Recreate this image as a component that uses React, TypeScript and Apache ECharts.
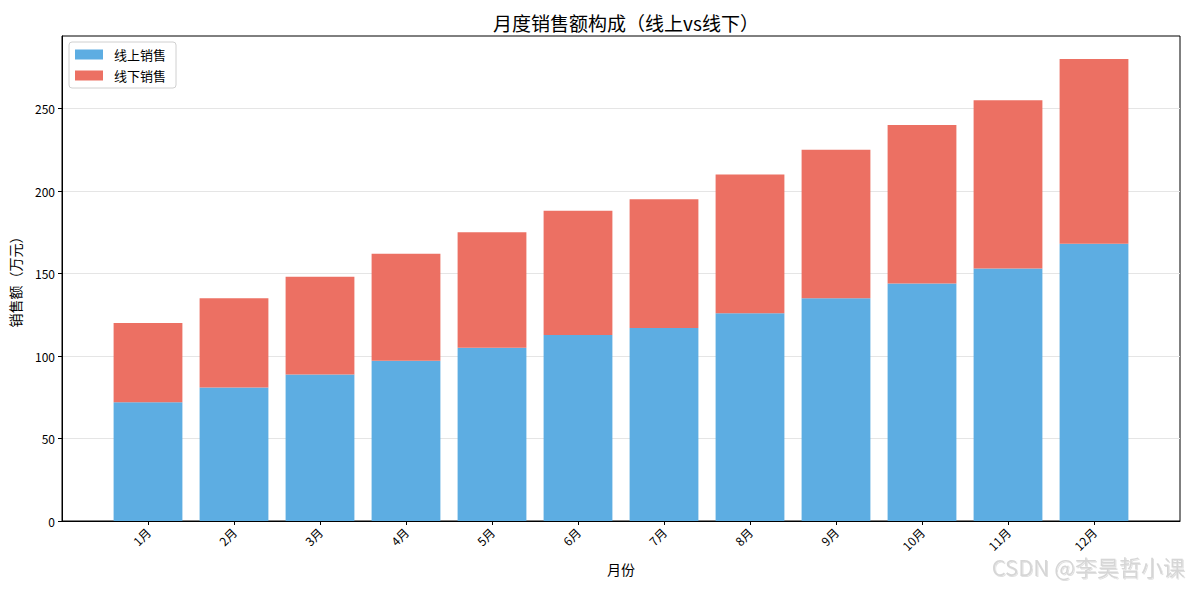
import React, { useEffect, useRef } from "react";
import * as echarts from "echarts";

const months = ["1月", "2月", "3月", "4月", "5月", "6月", "7月", "8月", "9月", "10月", "11月", "12月"];
const online = [72, 81, 88.8, 97.2, 105, 112.8, 117, 126, 135, 144, 153, 168];
const offline = [48, 54, 59.2, 64.8, 70, 75.2, 78, 84, 90, 96, 102, 112];
const yTicks = [0, 50, 100, 150, 200, 250];

const FONT = "'Noto Sans CJK SC', 'DejaVu Sans', sans-serif";

export default function App() {
  const ref = useRef<HTMLDivElement>(null);
  useEffect(() => {
    if (!ref.current) return;
    const chart = echarts.init(ref.current, undefined, { renderer: "svg" });
    const cats = ["", ...months, ""];
    const pad = (a: number[]) => ["-", ...a, "-"];
    chart.setOption({
      animation: false,
      textStyle: { fontFamily: FONT },
      title: {
        text: "月度销售额构成（线上vs线下）",
        left: 621,
        top: 8,
        textAlign: "center",
        textStyle: { fontSize: 19, fontWeight: "normal", color: "#000", fontFamily: FONT },
      },
      legend: {
        orient: "vertical",
        left: 69,
        top: 42,
        itemWidth: 28,
        itemHeight: 10,
        itemGap: 8,
        padding: [6, 10, 6, 6],
        borderColor: "#d0d0d0",
        borderWidth: 1,
        borderRadius: 3,
        backgroundColor: "#fff",
        icon: "rect",
        textStyle: { fontSize: 13, color: "#000", fontFamily: FONT, padding: [0, 0, 0, 6] },
        data: ["线上销售", "线下销售"],
      },
      grid: {
        left: 62,
        right: 9,
        top: 36,
        bottom: 69,
        show: true,
        borderColor: "#000",
        borderWidth: 1,
        backgroundColor: "transparent",
      },
      xAxis: {
        type: "category",
        data: cats,
        boundaryGap: false,
        name: "月份",
        nameLocation: "middle",
        nameGap: 41,
        nameTextStyle: { fontSize: 14, color: "#000", fontFamily: FONT },
        axisLine: { show: true, lineStyle: { color: "#000" } },
        axisTick: {
          show: true,
          length: 4,
          inside: false,
          interval: (i: number) => i > 0 && i < cats.length - 1,
          lineStyle: { color: "#000" },
        },
        axisLabel: {
          interval: 0,
          rotate: 45,
          fontSize: 12,
          color: "#000",
          margin: 9,
          fontFamily: FONT,
        },
        splitLine: { show: false },
      },
      yAxis: {
        type: "value",
        min: 0,
        max: 294,
        interval: 50,
        name: "销售额（万元）",
        nameLocation: "middle",
        nameGap: 40,
        nameTextStyle: { fontSize: 14, color: "#000", fontFamily: FONT },
        axisLine: { show: true, lineStyle: { color: "#000" } },
        axisTick: { show: true, length: 4, customValues: yTicks, lineStyle: { color: "#000" } },
        axisLabel: {
          fontSize: 12,
          color: "#000",
          margin: 7,
          fontFamily: FONT,
          customValues: yTicks,
        },
        splitLine: { show: true, lineStyle: { color: "#e5e5e5", width: 1 } },
      },
      series: [
        {
          name: "线上销售",
          type: "bar",
          stack: "total",
          barWidth: "80%",
          data: pad(online),
          itemStyle: { color: "#5dade2" },
        },
        {
          name: "线下销售",
          type: "bar",
          stack: "total",
          barWidth: "80%",
          data: pad(offline),
          itemStyle: { color: "#ec7063" },
        },
      ],
      graphic: [
        {
          type: "text",
          right: 4,
          top: 555,
          style: {
            text: "CSDN @李昊哲小课",
            fontSize: 22,
            fontWeight: "normal",
            fill: "#d6d6d6",
            fontFamily: FONT,
            textShadowColor: "rgba(0,0,0,0.12)",
            textShadowBlur: 1,
            textShadowOffsetX: 1,
            textShadowOffsetY: 1,
          },
        },
      ],
    });
    return () => chart.dispose();
  }, []);
  return (
    <div
      ref={ref}
      style={{ position: "fixed", left: 0, top: 0, width: 1189, height: 590, background: "#fff" }}
    />
  );
}
